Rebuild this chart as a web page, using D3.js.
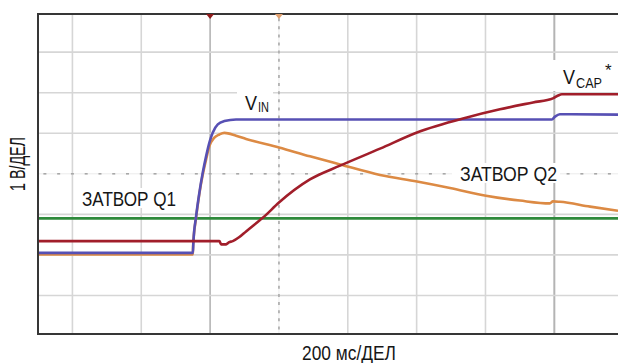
<!DOCTYPE html>
<html>
<head>
<meta charset="utf-8">
<script src="https://cdn.jsdelivr.net/npm/d3@7"></script>
<style>
  html, body { margin: 0; padding: 0; background: #fff; }
  svg { display: block; }
  text { font-family: 'Liberation Sans Narrow', 'Arial Narrow', 'Liberation Sans', sans-serif; fill: #161616; }
</style>
</head>
<body>
<svg id="chart" width="618" height="363"></svg>
<script>
// ---- data (time in ms, voltage in divisions, 1 V/div) ----
const timeTicks = [0, 200, 400, 600, 800, 1000, 1200, 1400];
const voltTicks = [-3, -2, -1, 0, 1, 2, 3];
const xAxisLabel = "200 мс/ДЕЛ";
const yAxisLabel = "1 В/ДЕЛ";
const labelQ1 = "ЗАТВОР Q1";
const labelQ2 = "ЗАТВОР Q2";

const gateQ1 = [[-100, -1.10], [1585, -1.10]];
const vin = [
  [-100, -1.95], [350, -1.95], [351.4, -1.69], [359.3, -1.05], [368.9, -0.46],
  [378.7, 0.03], [388.3, 0.43], [397.9, 0.77], [407.8, 1.02], [422.3, 1.22],
  [441.5, 1.30], [475.4, 1.34], [900, 1.34], [1387, 1.34], [1393, 1.34],
  [1402, 1.41], [1416, 1.47], [1585, 1.46]
];
const gateQ2 = [
  [-100, -1.99], [349.7, -1.99], [350.5, -1.79], [359.3, -1.08], [368.9, -0.49],
  [378.7, -0.02], [388.3, 0.35], [397.9, 0.68], [412.4, 0.89], [427, 0.97],
  [441.5, 1.01], [475.4, 0.94], [504.5, 0.86], [600, 0.65], [690, 0.43],
  [777.5, 0.23], [893.7, -0.03], [1001, -0.19], [1097, -0.35], [1201.5, -0.54],
  [1300, -0.66], [1387, -0.73], [1396, -0.68], [1416, -0.69], [1504, -0.81],
  [1585, -0.91]
];
const vcap = [
  [-100, -1.66], [427, -1.66], [432, -1.74], [446.4, -1.74], [454.3, -1.69],
  [465.9, -1.66], [485, -1.56], [504.5, -1.42], [536.4, -1.20], [553.9, -1.08],
  [600, -0.71], [690, -0.14], [777.5, 0.20], [893.7, 0.62], [1001, 1.02],
  [1146, 1.39], [1242, 1.59], [1338, 1.76], [1396, 1.86], [1411, 1.93],
  [1422, 1.96], [1585, 1.96]
];
const triggerMarks = [400, 600];

// ---- drawing ----
const svg = d3.select("#chart");
const L = 38, R = 618, T = 14, B = 334;
const x = d3.scaleLinear().domain([-100, 1585]).range([L, R]);
const y = d3.scaleLinear().domain([-3.95, 3.94]).range([B, T]);

const grid = svg.append("g");
// vertical grid
grid.selectAll(".vg").data(timeTicks.filter(t => t !== 600)).enter().append("line")
  .attr("x1", d => x(d)).attr("x2", d => x(d)).attr("y1", T).attr("y2", B)
  .attr("stroke", d => (d === 400 || d === 1400) ? "#b4b4b4" : "#d6d6d6")
  .attr("stroke-width", d => (d === 1400) ? 2 : 1.6);
// horizontal grid
grid.selectAll(".hg").data(voltTicks.filter(v => v !== 0)).enter().append("line")
  .attr("x1", L).attr("x2", R).attr("y1", d => y(d)).attr("y2", d => y(d))
  .attr("stroke", "#d6d6d6").attr("stroke-width", 1.6);
// centre lines (faint) with minor ticks
grid.append("line").attr("x1", x(600)).attr("x2", x(600)).attr("y1", T).attr("y2", B)
  .attr("stroke", "#ececec").attr("stroke-width", 1);
grid.append("line").attr("x1", L).attr("x2", R).attr("y1", y(0)).attr("y2", y(0))
  .attr("stroke", "#ececec").attr("stroke-width", 1);
const minorT = d3.range(-80, 1585, 40);
grid.selectAll(".mt").data(minorT).enter().append("line")
  .attr("x1", d => x(d) - 1.5).attr("x2", d => x(d) + 1.5)
  .attr("y1", y(0)).attr("y2", y(0))
  .attr("stroke", "#a8a8a8").attr("stroke-width", 1.6);
const minorV = d3.range(-3.8, 3.95, 0.2);
grid.selectAll(".mv").data(minorV).enter().append("line")
  .attr("x1", x(600)).attr("x2", x(600))
  .attr("y1", d => y(d) - 1.5).attr("y2", d => y(d) + 1.5)
  .attr("stroke", "#a8a8a8").attr("stroke-width", 1.6);

// label backgrounds
const bg = svg.append("g").attr("fill", "#fff");
bg.append("rect").attr("x", 237).attr("y", 86).attr("width", 36).attr("height", 30);
bg.append("rect").attr("x", 551).attr("y", 60).attr("width", 67).attr("height", 31);
bg.append("rect").attr("x", 452).attr("y", 163).attr("width", 108).attr("height", 20);
bg.append("rect").attr("x", 77).attr("y", 188).attr("width", 104).attr("height", 20);

// traces
const line = d3.line().x(d => x(d[0])).y(d => y(d[1])).curve(d3.curveMonotoneX);
const traces = [
  { data: gateQ1, color: "#2f8a3c" },
  { data: gateQ2, color: "#dc8a44" },
  { data: vin, color: "#5750b4" },
  { data: vcap, color: "#a11e2a" }
];
svg.append("g").selectAll("path").data(traces).enter().append("path")
  .attr("d", d => line(d.data)).attr("fill", "none")
  .attr("stroke", d => d.color).attr("stroke-width", 2.6)
  .attr("stroke-linejoin", "round");

// frame
const frame = svg.append("g").attr("stroke", "#363636").attr("stroke-width", 2).attr("fill", "none");
frame.append("path").attr("d", `M${R},${T}H${L}V${B}H${R}`);

// trigger markers
svg.selectAll(".tm").data(triggerMarks).enter().append("path")
  .attr("d", d => `M${x(d) - 4},${T} L${x(d) + 4},${T} L${x(d)},${T + 5} Z`)
  .attr("fill", (d, i) => i === 0 ? "#8e1c1c" : "#e0a070");

// texts
svg.append("text").attr("x", 245).attr("y", 109.5).attr("font-size", 21)
  .attr("textLength", 12).attr("lengthAdjust", "spacingAndGlyphs").text("V");
svg.append("text").attr("x", 258).attr("y", 112).attr("font-size", 15)
  .attr("textLength", 11).attr("lengthAdjust", "spacingAndGlyphs").text("IN");

svg.append("text").attr("x", 563).attr("y", 84).attr("font-size", 21)
  .attr("textLength", 12).attr("lengthAdjust", "spacingAndGlyphs").text("V");
svg.append("text").attr("x", 576).attr("y", 88).attr("font-size", 15)
  .attr("textLength", 26).attr("lengthAdjust", "spacingAndGlyphs").text("CAP");
svg.append("text").attr("x", 605).attr("y", 76).attr("font-size", 17).text("*");

svg.append("text").attr("x", 460).attr("y", 180.5).attr("font-size", 21)
  .attr("textLength", 97).attr("lengthAdjust", "spacingAndGlyphs").text(labelQ2);
svg.append("text").attr("x", 82).attr("y", 205.5).attr("font-size", 21)
  .attr("textLength", 94).attr("lengthAdjust", "spacingAndGlyphs").text(labelQ1);

svg.append("text").attr("x", 302).attr("y", 360).attr("font-size", 21)
  .attr("textLength", 94).attr("lengthAdjust", "spacingAndGlyphs").text(xAxisLabel);
svg.append("text").attr("transform", "translate(25,191) rotate(-90)").attr("font-size", 22)
  .attr("textLength", 54).attr("lengthAdjust", "spacingAndGlyphs").text(yAxisLabel);
</script>
</body>
</html>
